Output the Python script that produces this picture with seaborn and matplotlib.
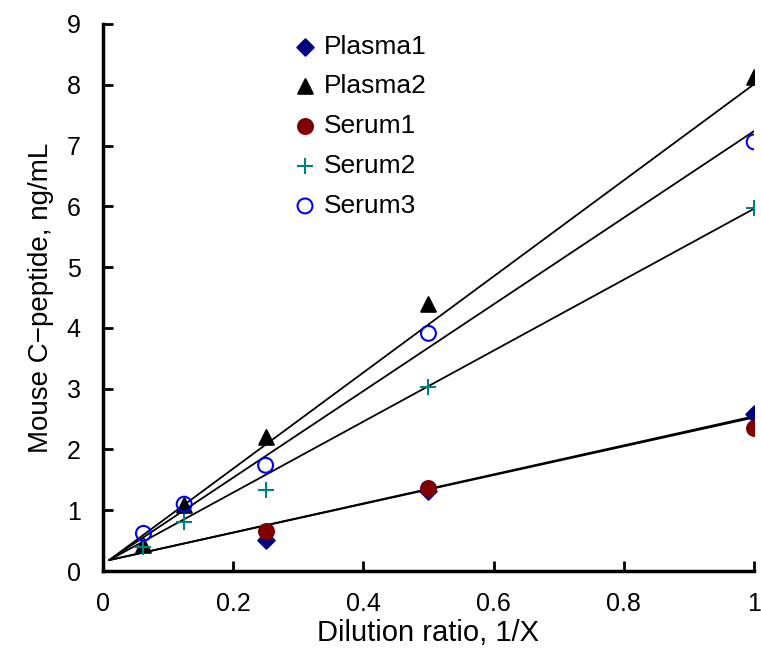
import numpy as np
import pandas as pd
import matplotlib
matplotlib.use("Agg")
import matplotlib.pyplot as plt
import seaborn as sns

dilution = [0.0625, 0.125, 0.25, 0.5, 1.0]
dilution_short = [0.25, 0.5, 1.0]

plasma1 = [0.51, 1.31, 2.59]
plasma2 = [0.43, 1.08, 2.20, 4.40, 8.12]
serum1 = [0.66, 1.36, 2.35]
serum2 = [0.39, 0.80, 1.33, 3.02, 5.98]
serum3 = [0.62, 1.10, 1.74, 3.91, 7.06]

# trendlines (slope, intercept) as drawn on the chart
trend_names = ["Plasma1", "Plasma2", "Serum1", "Serum2", "Serum3"]
trend_slope = [2.39, 7.91, 2.37, 5.84, 7.13]
trend_icpt = [0.156, 0.101, 0.156, 0.122, 0.109]
trend_x = [0.01, 1.0]

def main():
    sns.set_style("ticks")
    plt.rcParams['font.family'] = ['Liberation Sans', 'DejaVu Sans']
    for k in ['text.color', 'axes.labelcolor', 'xtick.color', 'ytick.color', 'axes.edgecolor']:
        plt.rcParams[k] = 'black'

    fig = plt.figure(figsize=(7.61, 6.66), dpi=100)
    ax = fig.add_axes([0.135, 0.1426, 0.856, 0.8214])

    # trend lines first, under the markers
    rows = []
    for n, m, b in zip(trend_names, trend_slope, trend_icpt):
        for x in trend_x:
            rows.append({'x': x, 'y': m * x + b, 'name': n})
    tl = pd.DataFrame(rows)
    for n in trend_names:
        sns.lineplot(data=tl[tl['name'] == n], x='x', y='y', color='black',
                     linewidth=1.3, ax=ax, legend=False)

    series = [
        ("Plasma1", dilution_short, plasma1, 'D', '#000080', '#000080', 70),
        ("Plasma2", dilution, plasma2, '^', 'black', 'black', 110),
        ("Serum1", dilution_short, serum1, 'o', '#800000', '#800000', 115),
        ("Serum2", dilution, serum2, '+', '#008080', '#008080', 130),
        ("Serum3", dilution, serum3, 'o', 'none', '#0000FF', 115),
    ]
    for name, xs, ys, mk, fc, ec, s in series:
        df = pd.DataFrame({'x': xs, 'y': ys})
        if mk == '+':
            sns.scatterplot(data=df, x='x', y='y', marker=mk, color=ec, s=s,
                            linewidth=1.5, ax=ax, label=name, zorder=3)
        else:
            sns.scatterplot(data=df, x='x', y='y', marker=mk, facecolor=fc,
                            edgecolor=ec, s=s, linewidth=1.5, ax=ax, label=name,
                            zorder=3)

    ax.set_xlim(0, 1)
    ax.set_ylim(0, 9)
    ax.set_xticks([0, 0.2, 0.4, 0.6, 0.8, 1])
    ax.set_xticklabels(["0", "0.2", "0.4", "0.6", "0.8", "1"])
    ax.set_yticks(range(10))
    ax.tick_params(direction='in', length=7, width=2, labelsize=18)
    ax.tick_params(axis='y', pad=16)
    ax.tick_params(axis='x', pad=15)
    for sp in ['top', 'right']:
        ax.spines[sp].set_visible(False)
    for sp in ['left', 'bottom']:
        ax.spines[sp].set_linewidth(2.5)

    ax.set_xlabel("Dilution ratio, 1/X", fontsize=21, labelpad=2)
    ax.set_ylabel("Mouse C\u2212peptide, ng/mL", fontsize=20, labelpad=9)

    ax.legend(loc='upper left', bbox_to_anchor=(0.27, 1.0), frameon=False,
              fontsize=19, handletextpad=0.1, labelspacing=0.6,
              handlelength=1.2, borderaxespad=0)

    fig.savefig("out.png", dpi=100)

if __name__ == "__main__":
    main()
